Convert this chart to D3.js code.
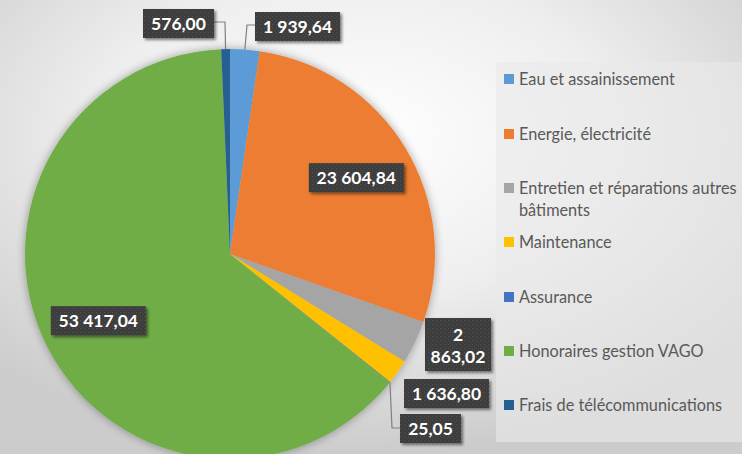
<!DOCTYPE html>
<html>
<head>
<meta charset="utf-8">
<script src="https://cdn.jsdelivr.net/npm/d3@7"></script>
<style>
  html, body { margin: 0; padding: 0; background: #fff; }
  svg { display: block; }
</style>
</head>
<body>
<svg id="chart" width="742" height="454"></svg>
<script>
// Dépenses par poste (en francs)
const categories = [
  "Eau et assainissement",
  "Energie, électricité",
  "Entretien et réparations autres bâtiments",
  "Maintenance",
  "Assurance",
  "Honoraires gestion VAGO",
  "Frais de télécommunications"
];
const values = [1939.64, 23604.84, 2863.02, 1636.80, 25.05, 53417.04, 576.00];
const valueLabels = ["1 939,64", "23 604,84", "2\n863,02", "1 636,80", "25,05", "53 417,04", "576,00"];
const colors = ["#5B9BD5", "#ED7D31", "#A5A5A5", "#FFC000", "#4472C4", "#70AD47", "#255E91"];

const W = 742, H = 454;
const cx = 230, cy = 254, R = 205;

const svg = d3.select("#chart");
const defs = svg.append("defs");

// background: soft radial gradient
const bg = defs.append("radialGradient").attr("id", "bg")
  .attr("cx", "48%").attr("cy", "30%").attr("r", "70%");
bg.append("stop").attr("offset", "0%").attr("stop-color", "#ffffff");
bg.append("stop").attr("offset", "50%").attr("stop-color", "#eeeeee");
bg.append("stop").attr("offset", "100%").attr("stop-color", "#cccccc");
svg.append("rect").attr("width", W).attr("height", H).attr("fill", "url(#bg)");

// pie shadow
const shadow = defs.append("filter").attr("id", "pieShadow")
  .attr("x", "-20%").attr("y", "-20%").attr("width", "140%").attr("height", "140%");
shadow.append("feGaussianBlur").attr("in", "SourceAlpha").attr("stdDeviation", 5).attr("result", "b");
shadow.append("feComponentTransfer").attr("in", "b").attr("result", "s")
  .append("feFuncA").attr("type", "linear").attr("slope", 0.35);
const sm = shadow.append("feMerge");
sm.append("feMergeNode").attr("in", "s");
sm.append("feMergeNode").attr("in", "SourceGraphic");

// label box shadow
const boxShadow = defs.append("filter").attr("id", "boxShadow")
  .attr("x", "-20%").attr("y", "-30%").attr("width", "150%").attr("height", "170%");
boxShadow.append("feGaussianBlur").attr("in", "SourceAlpha").attr("stdDeviation", 1.5).attr("result", "b");
boxShadow.append("feOffset").attr("in", "b").attr("dx", 2).attr("dy", 2).attr("result", "o");
boxShadow.append("feComponentTransfer").attr("in", "o").attr("result", "s")
  .append("feFuncA").attr("type", "linear").attr("slope", 0.5);
const bm = boxShadow.append("feMerge");
bm.append("feMergeNode").attr("in", "s");
bm.append("feMergeNode").attr("in", "SourceGraphic");

// dotted texture in the label boxes
const pat = defs.append("pattern").attr("id", "dots")
  .attr("width", 4).attr("height", 4).attr("patternUnits", "userSpaceOnUse");
pat.append("rect").attr("width", 4).attr("height", 4).attr("fill", "#3d3d3d");
pat.append("rect").attr("x", 0).attr("y", 0).attr("width", 1).attr("height", 1).attr("fill", "#525252");
pat.append("rect").attr("x", 2).attr("y", 2).attr("width", 1).attr("height", 1).attr("fill", "#4a4a4a");

// legend panel
svg.append("rect").attr("x", 496).attr("y", 62).attr("width", W - 496).attr("height", 380)
  .attr("fill", "#e9e9e9").attr("opacity", 0.6);

// pie
const data = categories.map((c, i) => ({ name: c, value: values[i], label: valueLabels[i], color: colors[i] }));
const pie = d3.pie().value(d => d.value).sort(null);
const arcs = pie(data);
const arc = d3.arc().innerRadius(0).outerRadius(R);

const gPie = svg.append("g").attr("transform", `translate(${cx},${cy})`);
gPie.append("g").attr("filter", "url(#pieShadow)")
  .selectAll("path").data(arcs).join("path")
  .attr("d", arc)
  .attr("fill", d => d.data.color);

// label placement: inner labels sit on a ring; outer labels carry a box position
const innerArc = d3.arc().innerRadius(R * 0.72).outerRadius(R * 0.72);
const placement = [
  { box: [255, 12], leader: true, side: "left", ly: 13, elbow: 247 },   // Eau
  { inner: true },                                                      // Energie
  { box: [425, 318], w: 66, h: 53 },                                    // Entretien
  { box: [404, 379] },                                                  // Maintenance
  { box: [400, 414], leader: true, side: "left", ly: 14, elbow: 392 }, // Assurance
  { inner: true },                                                      // Honoraires
  { box: [143, 9], leader: true, side: "right", ly: 13, elbow: 225 }   // Frais
];

const lblFont = "Lato, 'Open Sans', sans-serif";
const gLead = svg.append("g");
const gLbl = svg.append("g");

arcs.forEach((a, i) => {
  const p = placement[i];
  const lines = a.data.label.split("\n");
  const g = gLbl.append("g");
  const t = g.append("text")
    .attr("fill", "#ffffff")
    .attr("font-family", lblFont)
    .attr("font-weight", 700)
    .attr("font-size", 17.5)
    .attr("text-anchor", "middle");
  lines.forEach((ln, k) => t.append("tspan").attr("x", 0).attr("dy", k === 0 ? 0 : 22).text(ln));
  const bb = t.node().getBBox();
  const multi = lines.length > 1;
  const boxW = p.w || Math.round(bb.width + 16);
  const bh = p.h || 29;
  let bx, by;
  if (p.inner) {
    const c = innerArc.centroid(a);
    bx = cx + c[0] - boxW / 2;
    by = cy + c[1] - bh / 2;
  } else {
    bx = p.box[0]; by = p.box[1];
  }
  g.insert("rect", "text")
    .attr("x", bx).attr("y", by).attr("width", boxW).attr("height", bh)
    .attr("fill", "url(#dots)")
    .attr("filter", "url(#boxShadow)");
  const firstBase = multi ? by + 23 : by + bh / 2 + 6.5;
  t.attr("transform", `translate(${bx + boxW / 2},${firstBase})`);

  if (p.leader) {
    // leader from label box to the slice edge
    const mid = (a.startAngle + a.endAngle) / 2;
    const ex = cx + Math.sin(mid) * R;
    const ey = cy - Math.cos(mid) * R;
    const ly = by + p.ly;
    const lx = p.side === "left" ? bx : bx + boxW;
    gLead.append("path")
      .attr("d", `M${lx},${ly} H${p.elbow} L${ex},${ey}`)
      .attr("fill", "none")
      .attr("stroke", "#7f7f7f")
      .attr("stroke-width", 1.2);
  }
});

// legend
const legend = svg.append("g").attr("font-family", "Lato, 'Open Sans', sans-serif")
  .attr("font-size", 16.3).attr("fill", "#595959");
const rowY = [79, 134, 188, 242, 297, 351, 405];
const legendLines = [
  ["Eau et assainissement"],
  ["Energie, électricité"],
  ["Entretien et réparations autres", "bâtiments"],
  ["Maintenance"],
  ["Assurance"],
  ["Honoraires gestion VAGO"],
  ["Frais de télécommunications"]
];
categories.forEach((c, i) => {
  const g = legend.append("g").attr("transform", `translate(504,${rowY[i]})`);
  g.append("rect").attr("x", 0).attr("y", -5).attr("width", 10).attr("height", 10).attr("fill", colors[i]);
  const t = g.append("text").attr("x", 15).attr("y", 5.5);
  legendLines[i].forEach((ln, k) => t.append("tspan").attr("x", 15).attr("dy", k === 0 ? 0 : 22).text(ln));
});
</script>
</body>
</html>
